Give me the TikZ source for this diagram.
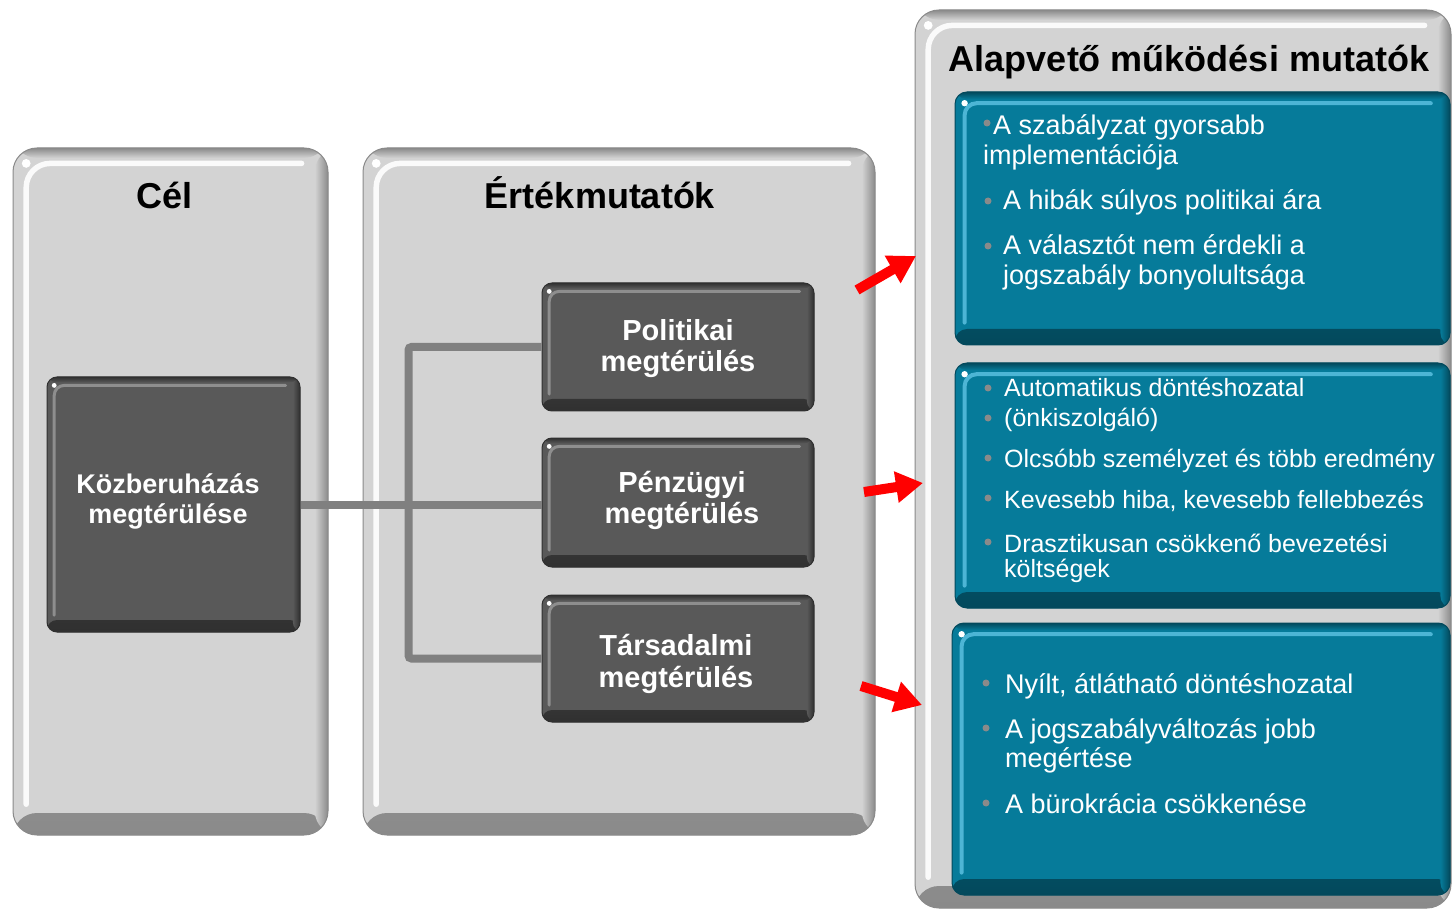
\documentclass[tikz,border=0pt]{standalone}
\usepackage{fontspec}
\setmainfont{Liberation Sans}
\usetikzlibrary{arrows.meta}
\definecolor{panelgray}{HTML}{D3D3D3}
\definecolor{paneldark}{HTML}{8A8A8A}
\definecolor{panellight}{HTML}{FAFAFA}
\definecolor{darkbox}{HTML}{595959}
\definecolor{darkedge}{HTML}{303030}
\definecolor{darklight}{HTML}{8E8E8E}
\definecolor{bluebox}{HTML}{067B9A}
\definecolor{blueedge}{HTML}{03495C}
\definecolor{bluelight}{HTML}{4DB5D5}
\definecolor{conngray}{HTML}{808080}
\definecolor{bulletgray}{HTML}{8A8A8A}
\tikzset{
  bevel/.style n args={4}{fill=#1, draw=#2, line width=1pt, inner sep=0pt,
    path picture={
      \shade[top color=#1, bottom color=#2] ([yshift=#4]path picture bounding box.south west) rectangle (path picture bounding box.south east);
      \shade[left color=#1, right color=#2] ([xshift=-0.6*#4]path picture bounding box.north east) rectangle (path picture bounding box.south east);
      \shade[top color=#2, bottom color=#1] (path picture bounding box.north west) rectangle ([yshift=-0.45*#4]path picture bounding box.north east);
      \draw[#3, line width=0.25*#4, line cap=round] ([xshift=0.6*#4, yshift=1.4*#4]path picture bounding box.south west) |- ([xshift=-1.2*#4, yshift=-0.7*#4]path picture bounding box.north east);
      \fill[white] ([xshift=0.6*#4, yshift=-0.7*#4]path picture bounding box.north west) circle[radius=0.2*#4];
    }},
  panel/.style={bevel={panelgray}{paneldark}{panellight}{22pt}, rounded corners=24pt},
  bluebx/.style={bevel={bluebox}{blueedge}{bluelight}{16pt}, rounded corners=12pt},
  darkbx/.style={bevel={darkbox}{darkedge}{darklight}{12pt}, rounded corners=10pt},
  conn/.style={draw=conngray, line width=8pt},
  redarrow/.style={draw=red, line width=10pt, -{Triangle[length=27pt, width=30pt]}},
  title/.style={font=\fontsize{36}{40}\selectfont\bfseries, text=black, inner sep=0pt, anchor=base},
  dlabel/.style={font=\fontsize{29}{32}\selectfont\bfseries, text=white, inner sep=0pt, anchor=base},
  klabel/.style={font=\fontsize{27}{30}\selectfont\bfseries, text=white, inner sep=0pt, anchor=base},
  btext/.style={font=\fontsize{27}{30}\selectfont, text=white, inner sep=0pt, anchor=base west},
  btextsm/.style={font=\fontsize{25}{28}\selectfont, text=white, inner sep=0pt, anchor=base west},
}
\begin{document}
\begin{tikzpicture}[x=1pt,y=-1pt]
\useasboundingbox (0,0) rectangle (1452,909);
\fill[white] (0,0) rectangle (1452,909);

% panels
\node[panel, minimum width=315pt, minimum height=687pt] (pcel) at (170.5,491.5) {};
\node[panel, minimum width=512pt, minimum height=687pt] (pert) at (619,491.5) {};
\node[panel, minimum width=536pt, minimum height=898pt] (palap) at (1183,459) {};

% titles
\node[title] (tcel) at (165,209) {Cél};
\node[title] (tert) at (600,209) {Értékmutatók};
\node[title] (talap) at (1189,72) {Alapvető működési mutatók};

% dark boxes
\node[darkbx, minimum width=253pt, minimum height=255pt] (kozb) at (173.5,504.5) {};
\node[darkbx, minimum width=272pt, minimum height=128pt] (pol) at (678,347) {};
\node[darkbx, minimum width=272pt, minimum height=129pt] (penz) at (678,502.5) {};
\node[darkbx, minimum width=272pt, minimum height=127pt] (tars) at (678,658.5) {};

% connectors
\draw[conn] (kozb.east) -- (kozb.east -| penz.west);
\draw[conn, rounded corners=3pt] (pol.west) -- ++(-133,0) |- (tars.west);

% dark box labels
\node[klabel] (kozb1) at (168,493) {Közberuházás};
\node[klabel] (kozb2) at (168,523) {megtérülése};
\node[dlabel] (pol1) at (678,341) {Politikai};
\node[dlabel] (pol2) at (678,372) {megtérülés};
\node[dlabel] (penz1) at (682,492) {Pénzügyi};
\node[dlabel] (penz2) at (682,523) {megtérülés};
\node[dlabel] (tars1) at (676,655) {Társadalmi};
\node[dlabel] (tars2) at (676,687) {megtérülés};

% blue boxes
\node[bluebx, minimum width=495pt, minimum height=253pt] (b1) at (1202.5,218.5) {};
\node[bluebx, minimum width=495pt, minimum height=245pt] (b2) at (1202.5,485.5) {};
\node[bluebx, minimum width=498pt, minimum height=272pt] (b3) at (1201,759) {};

% box 1 text
\fill[bulletgray] (987,123) circle[radius=3.5];
\node[btext] (b1a) at (993,135) {A szabályzat gyorsabb};
\node[btext] (b1b) at (983,165) {implementációja};
\fill[bulletgray] (988,201) circle[radius=3.5];
\node[btext] (b1c) at (1003,210) {A hibák súlyos politikai ára};
\fill[bulletgray] (988,246) circle[radius=3.5];
\node[btext] (b1d) at (1003,255) {A választót nem érdekli a};
\node[btext] (b1e) at (1003,285) {jogszabály bonyolultsága};

% box 2 text
\fill[bulletgray] (988,388) circle[radius=3.5];
\node[btextsm] (b2a) at (1004,397) {Automatikus döntéshozatal};
\fill[bulletgray] (988,418) circle[radius=3.5];
\node[btextsm] (b2b) at (1004,427) {(önkiszolgáló)};
\fill[bulletgray] (988,458) circle[radius=3.5];
\node[btextsm] (b2c) at (1004,467) {Olcsóbb személyzet és több eredmény};
\fill[bulletgray] (988,498) circle[radius=3.5];
\node[btextsm] (b2d) at (1004,508) {Kevesebb hiba, kevesebb fellebbezés};
\fill[bulletgray] (988,542) circle[radius=3.5];
\node[btextsm] (b2e) at (1004,552) {Drasztikusan csökkenő bevezetési};
\node[btextsm] (b2f) at (1004,577) {költségek};

% box 3 text
\fill[bulletgray] (986,683) circle[radius=3.5];
\node[btext] (b3a) at (1005,693) {Nyílt, átlátható döntéshozatal};
\fill[bulletgray] (986,728) circle[radius=3.5];
\node[btext] (b3b) at (1005,738) {A jogszabályváltozás jobb};
\node[btext] (b3c) at (1005,767) {megértése};
\fill[bulletgray] (986,803) circle[radius=3.5];
\node[btext] (b3d) at (1005,813) {A bürokrácia csökkenése};

% red arrows
\coordinate (a1s) at (857,290);
\coordinate (a1e) at (916,256);
\coordinate (a2s) at (864,492);
\coordinate (a2e) at (923,483);
\coordinate (a3s) at (861,686);
\coordinate (a3e) at (922,705);
\draw[redarrow] (a1s) -- (a1e);
\draw[redarrow] (a2s) -- (a2e);
\draw[redarrow] (a3s) -- (a3e);
\end{tikzpicture}
\end{document}
